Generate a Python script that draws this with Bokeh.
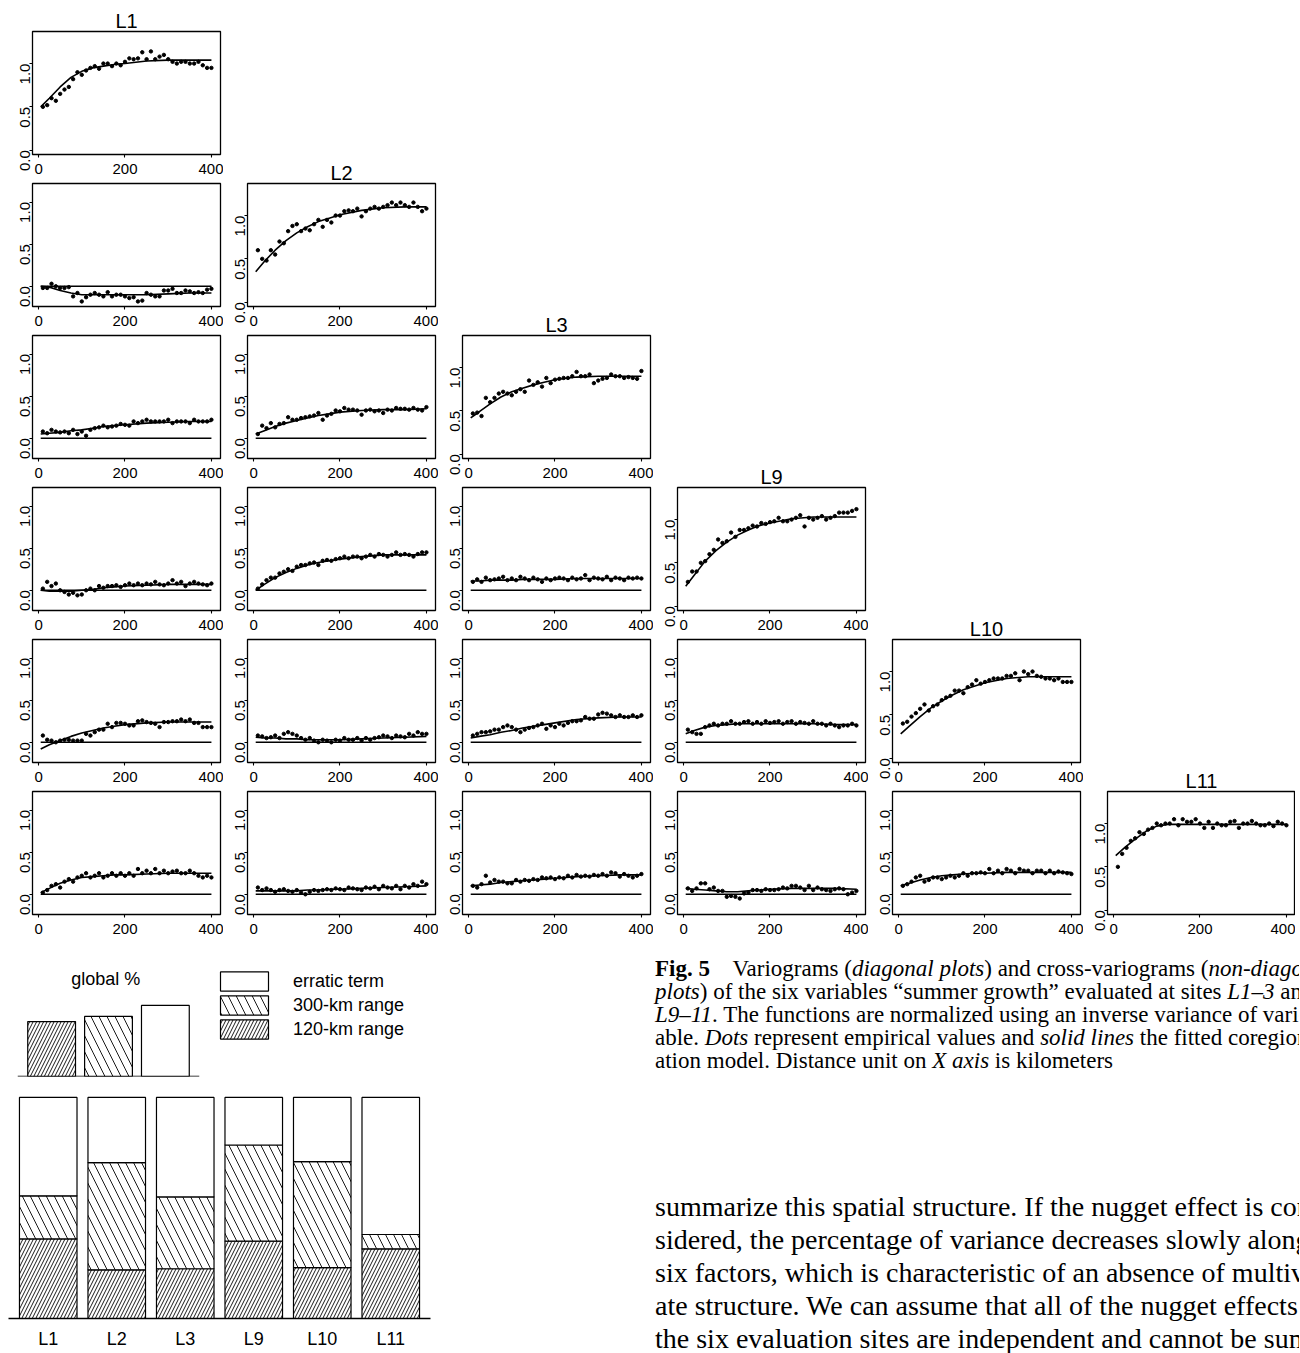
import math
from bokeh.plotting import figure
from bokeh.layouts import row, column
from bokeh.models import (Range1d, FixedTicker, PrintfTickFormatter, Spacer, Div, Span,
                          FactorRange, ColumnDataSource, Legend, LegendItem, Label)
from bokeh.embed import file_html
from bokeh.resources import INLINE

# ---------------- data ----------------
SITES = ["L1", "L2", "L3", "L9", "L10", "L11"]
LAGS = [10, 20, 30, 40, 50, 60, 70, 80, 90, 100, 110, 120, 130, 140, 150, 160, 170, 180, 190, 200,
        210, 220, 230, 240, 250, 260, 270, 280, 290, 300, 310, 320, 330, 340, 350, 360, 370, 380, 390, 400]
MODEL_X = [5, 25, 50, 75, 100, 125, 150, 175, 200, 250, 300, 350, 400]

# diagonal (variograms)
DOTS_L1 = [0.50, 0.52, 0.60, 0.57, 0.65, 0.70, 0.73, 0.82, 0.90, 0.87, 0.92, 0.95, 0.97, 0.94, 1.00, 1.00, 0.97, 1.00, 0.98, 1.02,
           1.06, 1.05, 1.06, 1.13, 1.05, 1.14, 1.05, 1.08, 1.10, 1.05, 1.02, 1.00, 1.02, 1.02, 1.00, 1.00, 1.02, 0.98, 0.95, 0.95]
MODEL_L1 = [0.50, 0.60, 0.73, 0.84, 0.91, 0.95, 0.97, 0.99, 1.00, 1.03, 1.04, 1.04, 1.04]
DOTS_L2 = [0.60, 0.50, 0.48, 0.60, 0.55, 0.70, 0.68, 0.82, 0.88, 0.90, 0.82, 0.85, 0.83, 0.90, 0.95, 0.87, 0.95, 0.92, 1.00, 1.00,
           1.05, 1.06, 1.05, 1.08, 0.99, 1.05, 1.08, 1.10, 1.08, 1.10, 1.12, 1.15, 1.12, 1.15, 1.12, 1.10, 1.15, 1.10, 1.05, 1.08]
MODEL_L2 = [0.35, 0.47, 0.60, 0.71, 0.80, 0.87, 0.93, 0.97, 1.01, 1.06, 1.09, 1.10, 1.10]
DOTS_L3 = [0.47, 0.48, 0.44, 0.65, 0.60, 0.65, 0.70, 0.72, 0.70, 0.68, 0.72, 0.75, 0.72, 0.85, 0.80, 0.83, 0.78, 0.88, 0.82, 0.86,
           0.87, 0.88, 0.88, 0.90, 0.95, 0.90, 0.90, 0.92, 0.82, 0.85, 0.87, 0.88, 0.92, 0.90, 0.90, 0.88, 0.89, 0.88, 0.87, 0.96]
MODEL_L3 = [0.42, 0.49, 0.58, 0.66, 0.72, 0.76, 0.80, 0.83, 0.86, 0.89, 0.90, 0.90, 0.90]
DOTS_L9 = [0.28, 0.40, 0.40, 0.50, 0.52, 0.60, 0.65, 0.77, 0.73, 0.75, 0.85, 0.80, 0.88, 0.88, 0.90, 0.93, 0.92, 0.96, 0.95, 0.97,
           0.98, 1.02, 0.98, 0.98, 1.00, 1.02, 1.05, 0.92, 1.02, 1.00, 1.02, 1.04, 1.00, 1.02, 1.04, 1.08, 1.08, 1.08, 1.10, 1.12]
MODEL_L9 = [0.23, 0.36, 0.52, 0.64, 0.74, 0.82, 0.88, 0.93, 0.96, 1.01, 1.03, 1.03, 1.03]
DOTS_L10 = [0.40, 0.42, 0.48, 0.52, 0.57, 0.62, 0.55, 0.60, 0.62, 0.67, 0.70, 0.72, 0.78, 0.78, 0.75, 0.82, 0.85, 0.90, 0.86, 0.88,
            0.90, 0.92, 0.92, 0.92, 0.95, 0.95, 0.98, 0.90, 1.00, 0.97, 1.00, 0.95, 0.94, 0.92, 0.92, 0.90, 0.92, 0.88, 0.88, 0.88]
MODEL_L10 = [0.28, 0.37, 0.48, 0.58, 0.66, 0.73, 0.79, 0.83, 0.87, 0.92, 0.94, 0.94, 0.94]
DOTS_L11 = [0.50, 0.65, 0.72, 0.80, 0.83, 0.90, 0.88, 0.93, 0.95, 1.00, 0.98, 1.00, 1.00, 1.05, 0.98, 1.05, 1.02, 1.02, 1.05, 1.00,
            0.95, 1.02, 0.95, 1.00, 0.98, 0.98, 1.02, 1.03, 0.95, 1.00, 1.00, 1.03, 1.00, 0.98, 0.98, 1.00, 0.97, 1.02, 1.00, 0.98]
MODEL_L11 = [0.63, 0.72, 0.82, 0.91, 0.97, 0.99, 0.99, 0.99, 0.99, 0.99, 0.99, 0.99, 0.99]

# off-diagonal (cross-variograms)
DOTS_L2_L1 = [-0.02, -0.02, 0.03, 0.00, -0.02, -0.02, -0.01, -0.12, -0.08, -0.18, -0.13, -0.10, -0.08, -0.10, -0.12, -0.07, -0.12, -0.10, -0.10, -0.12,
              -0.14, -0.13, -0.18, -0.17, -0.08, -0.10, -0.12, -0.12, -0.05, -0.05, -0.03, -0.08, -0.08, -0.05, -0.06, -0.08, -0.07, -0.08, -0.04, -0.03]
MODEL_L2_L1 = [0.00, -0.01, -0.05, -0.08, -0.10, -0.10, -0.10, -0.10, -0.10, -0.10, -0.09, -0.08, -0.08]
DOTS_L3_L1 = [0.08, 0.06, 0.10, 0.08, 0.07, 0.08, 0.06, 0.10, 0.05, 0.08, 0.03, 0.10, 0.12, 0.13, 0.15, 0.13, 0.14, 0.15, 0.17, 0.16,
              0.15, 0.20, 0.18, 0.20, 0.22, 0.20, 0.20, 0.20, 0.20, 0.22, 0.18, 0.20, 0.20, 0.20, 0.18, 0.22, 0.20, 0.20, 0.20, 0.22]
MODEL_L3_L1 = [0.05, 0.06, 0.07, 0.09, 0.10, 0.12, 0.14, 0.15, 0.16, 0.18, 0.19, 0.20, 0.20]
DOTS_L3_L2 = [0.05, 0.15, 0.12, 0.18, 0.13, 0.17, 0.18, 0.25, 0.22, 0.22, 0.24, 0.25, 0.26, 0.27, 0.30, 0.22, 0.27, 0.29, 0.33, 0.32,
              0.36, 0.34, 0.34, 0.33, 0.28, 0.33, 0.34, 0.32, 0.33, 0.30, 0.34, 0.33, 0.36, 0.35, 0.35, 0.34, 0.36, 0.34, 0.33, 0.37]
MODEL_L3_L2 = [0.05, 0.09, 0.14, 0.18, 0.21, 0.24, 0.27, 0.29, 0.31, 0.33, 0.34, 0.34, 0.35]
DOTS_L9_L1 = [0.02, 0.10, 0.05, 0.08, 0.00, -0.02, -0.05, -0.03, -0.06, -0.05, 0.00, 0.02, 0.00, 0.05, 0.03, 0.05, 0.05, 0.06, 0.04, 0.06,
              0.08, 0.06, 0.08, 0.06, 0.08, 0.07, 0.10, 0.07, 0.06, 0.08, 0.12, 0.08, 0.10, 0.05, 0.08, 0.10, 0.08, 0.07, 0.06, 0.08]
MODEL_L9_L1 = [0.00, -0.01, -0.01, -0.01, 0.00, 0.01, 0.03, 0.04, 0.05, 0.06, 0.07, 0.07, 0.07]
DOTS_L9_L2 = [0.02, 0.07, 0.12, 0.15, 0.15, 0.20, 0.22, 0.25, 0.23, 0.28, 0.30, 0.30, 0.32, 0.33, 0.30, 0.35, 0.36, 0.35, 0.37, 0.38,
              0.40, 0.38, 0.40, 0.40, 0.38, 0.40, 0.42, 0.40, 0.43, 0.42, 0.40, 0.42, 0.45, 0.42, 0.43, 0.42, 0.40, 0.43, 0.45, 0.45]
MODEL_L9_L2 = [0.00, 0.07, 0.15, 0.21, 0.26, 0.30, 0.33, 0.35, 0.37, 0.40, 0.42, 0.42, 0.42]
DOTS_L9_L3 = [0.10, 0.13, 0.10, 0.15, 0.12, 0.13, 0.14, 0.16, 0.12, 0.14, 0.12, 0.16, 0.14, 0.12, 0.15, 0.13, 0.10, 0.14, 0.12, 0.14,
              0.15, 0.14, 0.12, 0.15, 0.13, 0.14, 0.18, 0.12, 0.15, 0.14, 0.13, 0.16, 0.12, 0.15, 0.14, 0.12, 0.15, 0.14, 0.15, 0.14]
MODEL_L9_L3 = [0.11, 0.11, 0.12, 0.12, 0.12, 0.13, 0.13, 0.13, 0.13, 0.14, 0.14, 0.14, 0.14]
DOTS_L10_L1 = [0.08, 0.03, 0.02, 0.00, 0.02, 0.03, 0.03, 0.02, 0.02, 0.02, 0.10, 0.08, 0.12, 0.15, 0.15, 0.22, 0.18, 0.23, 0.23, 0.22,
               0.20, 0.20, 0.25, 0.26, 0.24, 0.23, 0.22, 0.18, 0.24, 0.24, 0.25, 0.25, 0.27, 0.25, 0.27, 0.23, 0.23, 0.18, 0.18, 0.18]
MODEL_L10_L1 = [-0.08, -0.03, 0.02, 0.07, 0.11, 0.14, 0.17, 0.19, 0.21, 0.23, 0.24, 0.24, 0.24]
DOTS_L10_L2 = [0.08, 0.07, 0.05, 0.06, 0.08, 0.05, 0.10, 0.12, 0.10, 0.08, 0.05, 0.03, 0.05, 0.02, 0.00, 0.03, 0.02, 0.00, 0.03, 0.02,
               0.05, 0.03, 0.03, 0.05, 0.02, 0.05, 0.03, 0.05, 0.06, 0.08, 0.07, 0.05, 0.08, 0.07, 0.06, 0.10, 0.08, 0.12, 0.10, 0.10]
MODEL_L10_L2 = [0.06, 0.05, 0.05, 0.04, 0.04, 0.03, 0.03, 0.03, 0.03, 0.04, 0.05, 0.06, 0.07]
DOTS_L10_L3 = [0.08, 0.10, 0.12, 0.12, 0.13, 0.15, 0.15, 0.18, 0.20, 0.18, 0.15, 0.12, 0.15, 0.17, 0.18, 0.20, 0.22, 0.16, 0.20, 0.18,
               0.22, 0.20, 0.23, 0.25, 0.25, 0.26, 0.30, 0.28, 0.28, 0.33, 0.35, 0.34, 0.32, 0.30, 0.32, 0.30, 0.30, 0.32, 0.30, 0.32]
MODEL_L10_L3 = [0.05, 0.07, 0.09, 0.12, 0.14, 0.17, 0.19, 0.21, 0.23, 0.27, 0.29, 0.30, 0.30]
DOTS_L10_L9 = [0.15, 0.12, 0.10, 0.10, 0.18, 0.20, 0.22, 0.20, 0.22, 0.22, 0.25, 0.22, 0.22, 0.24, 0.25, 0.22, 0.24, 0.22, 0.25, 0.23,
               0.24, 0.25, 0.22, 0.24, 0.25, 0.22, 0.24, 0.23, 0.22, 0.25, 0.22, 0.22, 0.20, 0.22, 0.20, 0.18, 0.20, 0.20, 0.22, 0.20]
MODEL_L10_L9 = [0.10, 0.14, 0.18, 0.20, 0.21, 0.22, 0.22, 0.22, 0.22, 0.22, 0.22, 0.21, 0.21]
DOTS_L11_L1 = [0.02, 0.05, 0.10, 0.12, 0.08, 0.15, 0.18, 0.15, 0.20, 0.22, 0.25, 0.20, 0.22, 0.25, 0.20, 0.22, 0.25, 0.22, 0.25, 0.22,
               0.25, 0.22, 0.30, 0.25, 0.28, 0.25, 0.30, 0.25, 0.28, 0.25, 0.27, 0.28, 0.25, 0.25, 0.28, 0.25, 0.22, 0.20, 0.22, 0.20]
MODEL_L11_L1 = [0.02, 0.07, 0.13, 0.17, 0.20, 0.21, 0.22, 0.23, 0.23, 0.24, 0.25, 0.25, 0.25]
DOTS_L11_L2 = [0.08, 0.05, 0.07, 0.05, 0.03, 0.05, 0.06, 0.04, 0.03, 0.05, 0.02, 0.00, 0.03, 0.05, 0.04, 0.05, 0.06, 0.05, 0.07, 0.06,
               0.05, 0.08, 0.07, 0.06, 0.05, 0.08, 0.07, 0.09, 0.06, 0.10, 0.08, 0.07, 0.10, 0.06, 0.10, 0.08, 0.12, 0.10, 0.15, 0.12]
MODEL_L11_L2 = [0.04, 0.04, 0.04, 0.04, 0.04, 0.05, 0.05, 0.06, 0.06, 0.07, 0.08, 0.09, 0.10]
DOTS_L11_L3 = [0.10, 0.08, 0.12, 0.22, 0.14, 0.17, 0.15, 0.15, 0.13, 0.13, 0.17, 0.15, 0.17, 0.16, 0.18, 0.17, 0.20, 0.19, 0.20, 0.18,
               0.20, 0.19, 0.22, 0.20, 0.23, 0.21, 0.22, 0.21, 0.23, 0.22, 0.24, 0.22, 0.26, 0.25, 0.21, 0.24, 0.22, 0.20, 0.22, 0.24]
MODEL_L11_L3 = [0.10, 0.11, 0.12, 0.14, 0.15, 0.16, 0.17, 0.18, 0.19, 0.21, 0.22, 0.23, 0.23]
DOTS_L11_L9 = [0.07, 0.04, 0.07, 0.13, 0.13, 0.06, 0.08, 0.04, 0.04, -0.03, -0.02, -0.03, -0.05, 0.01, 0.02, 0.05, 0.05, 0.04, 0.06, 0.05,
               0.05, 0.06, 0.08, 0.07, 0.10, 0.10, 0.08, 0.05, 0.10, 0.05, 0.08, 0.06, 0.05, 0.04, 0.06, 0.07, 0.06, 0.00, 0.02, 0.04]
MODEL_L11_L9 = [0.07, 0.06, 0.05, 0.04, 0.03, 0.03, 0.04, 0.05, 0.06, 0.07, 0.07, 0.07, 0.06]
DOTS_L11_L10 = [0.10, 0.12, 0.15, 0.20, 0.22, 0.15, 0.17, 0.20, 0.20, 0.18, 0.20, 0.22, 0.20, 0.22, 0.25, 0.22, 0.25, 0.25, 0.26, 0.25,
                0.30, 0.25, 0.28, 0.25, 0.30, 0.28, 0.25, 0.30, 0.28, 0.28, 0.25, 0.28, 0.28, 0.25, 0.28, 0.25, 0.27, 0.26, 0.25, 0.24]
MODEL_L11_L10 = [0.10, 0.13, 0.17, 0.20, 0.22, 0.23, 0.24, 0.25, 0.25, 0.26, 0.26, 0.26, 0.26]

# bar charts (percent of variance)
GLOBAL_CATS = ["120-km range", "300-km range", "erratic term"]
GLOBAL_PCT = [29.5, 32.3, 38.2]
RANGE_120 = [36.0, 22.0, 22.5, 35.0, 23.0, 31.5]
RANGE_300 = [19.5, 48.5, 32.5, 43.5, 48.0, 6.5]
ERRATIC = [44.5, 29.5, 45.0, 21.5, 29.0, 62.0]

X_TICKS = [0, 200, 400]
Y_TICKS = [0.0, 0.5, 1.0]

# ---------------- styling helpers ----------------
FONT = "Liberation Sans"
CELL_W, CELL_H = 215, 152
DIAG_TOP = 25

DIAG = {
    "L1": (DOTS_L1, MODEL_L1), "L2": (DOTS_L2, MODEL_L2), "L3": (DOTS_L3, MODEL_L3),
    "L9": (DOTS_L9, MODEL_L9), "L10": (DOTS_L10, MODEL_L10), "L11": (DOTS_L11, MODEL_L11),
}
CROSS = {
    ("L2", "L1"): (DOTS_L2_L1, MODEL_L2_L1),
    ("L3", "L1"): (DOTS_L3_L1, MODEL_L3_L1), ("L3", "L2"): (DOTS_L3_L2, MODEL_L3_L2),
    ("L9", "L1"): (DOTS_L9_L1, MODEL_L9_L1), ("L9", "L2"): (DOTS_L9_L2, MODEL_L9_L2),
    ("L9", "L3"): (DOTS_L9_L3, MODEL_L9_L3),
    ("L10", "L1"): (DOTS_L10_L1, MODEL_L10_L1), ("L10", "L2"): (DOTS_L10_L2, MODEL_L10_L2),
    ("L10", "L3"): (DOTS_L10_L3, MODEL_L10_L3), ("L10", "L9"): (DOTS_L10_L9, MODEL_L10_L9),
    ("L11", "L1"): (DOTS_L11_L1, MODEL_L11_L1), ("L11", "L2"): (DOTS_L11_L2, MODEL_L11_L2),
    ("L11", "L3"): (DOTS_L11_L3, MODEL_L11_L3), ("L11", "L9"): (DOTS_L11_L9, MODEL_L11_L9),
    ("L11", "L10"): (DOTS_L11_L10, MODEL_L11_L10),
}


def panel(dots, model, title=None, last_col=False):
    diag = title is not None
    p = figure(width=CELL_W - (3 if last_col else 0), height=(DIAG_TOP + 149 if diag else CELL_H),
               x_range=Range1d(-14, 421),
               y_range=Range1d(-0.05, 1.37) if diag else Range1d(-0.24, 1.22),
               output_backend="svg", toolbar_location=None,
               min_border_left=24, min_border_right=(0 if last_col else 3),
               min_border_top=(DIAG_TOP if diag else 3), min_border_bottom=26,
               title=title)
    if diag:
        p.title.align = "center"
        p.title.text_font = FONT
        p.title.text_font_size = "20px"
        p.title.text_font_style = "normal"
        p.title.text_color = "black"
        p.title.standoff = 0
    p.xgrid.visible = False
    p.ygrid.visible = False
    p.outline_line_color = "black"
    p.outline_line_width = 1.3
    p.background_fill_color = "white"
    p.border_fill_color = "white"
    for ax in (p.xaxis[0], p.yaxis[0]):
        ax.axis_line_color = None
        ax.major_tick_in = 0
        ax.major_tick_out = 3
        ax.major_tick_line_width = 1.1
        ax.minor_tick_line_color = None
        ax.major_label_text_font = FONT
        ax.major_label_text_font_size = "15px"
        ax.major_label_text_color = "black"
    p.xaxis.ticker = FixedTicker(ticks=X_TICKS)
    p.xaxis.major_label_standoff = 6
    p.yaxis.ticker = FixedTicker(ticks=Y_TICKS)
    p.yaxis.formatter = PrintfTickFormatter(format="%.1f")
    p.yaxis.major_label_orientation = math.pi / 2
    p.yaxis.major_label_standoff = 4
    if not diag:
        p.line([MODEL_X[0], MODEL_X[-1]], [0, 0], line_color="black", line_width=1.5)
    p.line(MODEL_X, model, line_color="black", line_width=1.6)
    n = min(len(LAGS), len(dots))
    p.scatter(LAGS[:n], dots[:n], size=3.4, color="black")
    return p


cols = []
for j, cs in enumerate(SITES):
    last = (j == len(SITES) - 1)
    w = CELL_W - (3 if last else 0)
    kids = []
    if j > 0:
        kids.append(Spacer(width=w, height=CELL_H * j))
    d, m = DIAG[cs]
    kids.append(panel(d, m, title=cs, last_col=last))
    for rs in SITES[j + 1:]:
        d, m = CROSS[(rs, cs)]
        kids.append(panel(d, m, last_col=last))
    cols.append(column(*kids, spacing=0))
grid = row(*cols, spacing=0)

# ---------------- global % bars ----------------
HATCH_STYLE = {"120-km range": ("/", 7), "300-km range": ("\\", 16), "erratic term": (" ", 12)}
gsrc = ColumnDataSource(dict(cat=GLOBAL_CATS, pct=GLOBAL_PCT,
                             hatch=[HATCH_STYLE[c][0] for c in GLOBAL_CATS],
                             hscale=[HATCH_STYLE[c][1] for c in GLOBAL_CATS]))
BAR_STYLE = dict(fill_color="white", line_color="black", line_width=1.2, hatch_pattern="hatch",
                 hatch_scale="hscale", hatch_color="black", hatch_weight=0.9)

gfig = figure(width=192, height=141,
              x_range=FactorRange(factors=GLOBAL_CATS, range_padding=0.2 / 3),
              y_range=Range1d(0, 67.7), output_backend="svg", toolbar_location=None,
              min_border_left=9, min_border_right=1, min_border_top=10, min_border_bottom=5)
gfig.vbar(x="cat", top="pct", width=0.84, source=gsrc, **BAR_STYLE)
gfig.xgrid.visible = False
gfig.ygrid.visible = False
gfig.outline_line_color = None
gfig.xaxis.visible = False
gfig.yaxis.visible = False
gfig.add_layout(Span(location=0, dimension="width", line_color="black", line_width=1.5))
gfig.add_layout(Label(x=1.45, y=52.5, text="global %", text_align="center", text_baseline="middle",
                      text_font=FONT, text_font_size="18px", text_color="black"))

# legend panel: a hidden copy of the global bars supplies the legend keys
lfig = figure(width=240, height=141,
              x_range=FactorRange(factors=GLOBAL_CATS),
              y_range=Range1d(0, 67.7), output_backend="svg", toolbar_location=None,
              min_border_left=0, min_border_right=0, min_border_top=10, min_border_bottom=5)
lr = lfig.vbar(x="cat", top="pct", width=0.84, source=gsrc, visible=False, **BAR_STYLE)
lfig.xgrid.visible = False
lfig.ygrid.visible = False
lfig.outline_line_color = None
lfig.xaxis.visible = False
lfig.yaxis.visible = False
legend = Legend(items=[LegendItem(label="erratic term", renderers=[lr], index=2),
                       LegendItem(label="300-km range", renderers=[lr], index=1),
                       LegendItem(label="120-km range", renderers=[lr], index=0)],
                location=(14, 35), margin=0, padding=0, spacing=0,
                glyph_width=60, glyph_height=24, label_height=24, label_standoff=19,
                label_text_font=FONT, label_text_font_size="18px", label_text_color="black",
                border_line_color=None, background_fill_alpha=0,
                inactive_fill_alpha=0)
lfig.add_layout(legend)

# ---------------- stacked bars per site ----------------
ssrc = ColumnDataSource(dict(site=SITES, r120=RANGE_120, r300=RANGE_300, err=ERRATIC))
mfig = figure(width=432, height=270,
              x_range=FactorRange(factors=SITES, range_padding=0.16 / 6),
              y_range=Range1d(0, 103.15), output_backend="svg", toolbar_location=None,
              min_border_left=0, min_border_right=10, min_border_top=9, min_border_bottom=32)
mfig.vbar_stack(["r120", "r300", "err"], x="site", width=0.84, source=ssrc,
                fill_color="white", line_color="black", line_width=1.2,
                hatch_pattern=["/", "\\", " "], hatch_scale=[7, 16, 12],
                hatch_color="black", hatch_weight=0.9)
mfig.xgrid.visible = False
mfig.ygrid.visible = False
mfig.outline_line_color = None
mfig.yaxis.visible = False
mfig.xaxis.axis_line_width = 1.5
mfig.xaxis.major_tick_line_color = None
mfig.xaxis.major_tick_out = 0
mfig.xaxis.major_tick_in = 0
mfig.xaxis.minor_tick_line_color = None
mfig.xaxis.major_label_text_font = FONT
mfig.xaxis.major_label_text_font_size = "18px"
mfig.xaxis.major_label_text_color = "black"
mfig.xaxis.major_label_standoff = 10

left_bottom = column(row(column(gfig), column(lfig), spacing=0), row(mfig, spacing=0), spacing=0)

# ---------------- caption and body text ----------------
CAPTION_LINES = [
    "<b>Fig.&nbsp;5</b>&nbsp;&nbsp;&nbsp; Variograms (<i>diagonal plots</i>) and cross-variograms (<i>non-diagonal</i>",
    "<i>plots</i>) of the six variables “summer growth” evaluated at sites <i>L1–3</i> and",
    "<i>L9–11</i>. The functions are normalized using an inverse variance of vari-",
    "able. <i>Dots</i> represent empirical values and <i>solid lines</i> the fitted coregionaliz-",
    "ation model. Distance unit on <i>X axis</i> is kilometers",
]
BODY_LINES = [
    "summarize this spatial structure. If the nugget effect is con-",
    "sidered, the percentage of variance decreases slowly along the",
    "six factors, which is characteristic of an absence of multivari-",
    "ate structure. We can assume that all of the nugget effects of",
    "the six evaluation sites are independent and cannot be sum-",
]
html = (
    "<div style=\"position:relative;width:854px;height:411px;overflow:hidden;"
    "font-family:'Liberation Serif',serif;color:#000;\">"
    "<div style=\"position:absolute;left:210px;top:12px;font-size:23px;line-height:23px;white-space:nowrap;\">"
    + "<br>".join(CAPTION_LINES) +
    "</div>"
    "<div style=\"position:absolute;left:210px;top:245px;font-size:28px;line-height:33px;white-space:nowrap;\">"
    + "<br>".join(BODY_LINES) +
    "</div></div>"
)
text_div = Div(text=html, width=854, height=411, styles={"overflow": "hidden"})

bottom = row(left_bottom, text_div, spacing=0)
content = column(grid, bottom, spacing=0)
layout = column(Spacer(width=1294, height=6), row(Spacer(width=8, height=1345), content, spacing=0), spacing=0)

open("out.html", "w").write(file_html(layout, INLINE))
